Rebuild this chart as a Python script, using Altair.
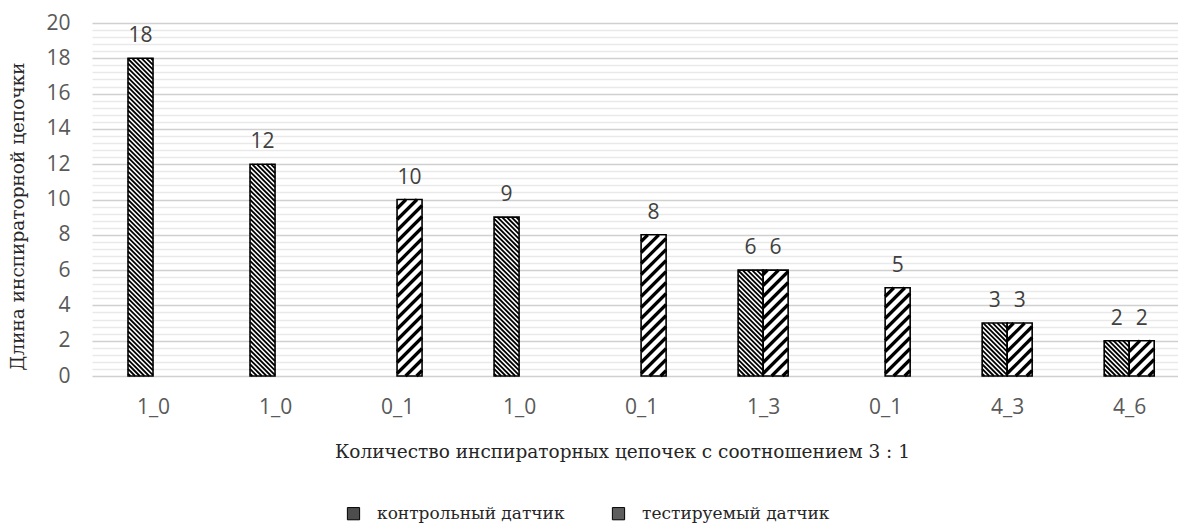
import json
import altair as alt
import pandas as pd

# ---------------- data ----------------
categories = ["1_0", "1_0", "0_1", "1_0", "0_1", "1_3", "0_1", "4_3", "4_6"]
control_values = [18, 12, None, 9, None, 6, None, 3, 2]
tested_values = [None, None, 10, None, 8, 6, 5, 3, 2]
series_names = ["контрольный датчик", "тестируемый датчик"]
y_title = "Длина инспираторной цепочки"
x_title = "Количество инспираторных цепочек с соотношением 3 : 1"

# ---------------- layout ----------------
PLOT_W, PLOT_H = 1086, 353
X_MIN, X_MAX = -0.5, 8.4
Y_MAX = 20
PX_X = PLOT_W / (X_MAX - X_MIN)
PX_Y = PLOT_H / Y_MAX
BAR_PX = 25
BW = BAR_PX / PX_X

bars = []
for i, (c, t) in enumerate(zip(control_values, tested_values)):
    if c is not None:
        bars.append(dict(idx=i, series=series_names[0], value=c, x0=i - BW, x1=i))
    if t is not None:
        bars.append(dict(idx=i, series=series_names[1], value=t, x0=i, x1=i + BW))
bars_df = pd.DataFrame(bars)
bars_df["xc"] = (bars_df["x0"] + bars_df["x1"]) / 2
bars_df["base"] = 0
bars_df["label"] = bars_df["value"].astype(int).astype(str)


def hatch(x0, val, slope, spacing, sw):
    w = BAR_PX
    h = val * PX_Y
    segs = []
    if slope > 0:
        c = -w + spacing / 2
        while c < h:
            ua, ub = max(0.0, -c), min(w, h - c)
            if ub > ua:
                segs.append((ua, ua + c, ub, ub + c))
            c += spacing
    else:
        c = spacing / 2
        while c < h + w:
            ua, ub = max(0.0, c - h), min(w, c)
            if ub > ua:
                segs.append((ua, c - ua, ub, c - ub))
            c += spacing
    return [
        dict(hx=x0 + a / PX_X, hy=b / PX_Y, hx2=x0 + cc / PX_X, hy2=d / PX_Y, sw=sw)
        for a, b, cc, d in segs
    ]


hatch_rows = []
for r in bars:
    if r["series"] == series_names[0]:
        hatch_rows += hatch(r["x0"], r["value"], -1, 4.7, 1.8)
    else:
        hatch_rows += hatch(r["x0"], r["value"], 1, 11.0, 3.2)
hatch_df = pd.DataFrame(hatch_rows)

yticks = [round(k * 0.4, 1) for k in range(51)]
major_test = "abs(datum.value % 2) < 0.001"

xscale = alt.Scale(domain=[X_MIN, X_MAX], nice=False, zero=False, padding=0)
yscale = alt.Scale(domain=[0, Y_MAX], nice=False, padding=0)

x_axis = alt.Axis(
    values=list(range(len(categories))),
    labelExpr=json.dumps(categories, ensure_ascii=False) + "[datum.value]",
    tickCount=100,
    grid=False, domain=False, ticks=False, tickSize=0,
    labelFlush=False, labelOverlap=False,
    labelPadding=20, labelFont="Open Sans", labelFontSize=21, labelColor="#595959",
    title=x_title, titleFont="DejaVu Serif", titleFontSize=18.5, titleFontWeight="normal",
    titleColor="#262626", titleX=530, titleY=81, titleBaseline="alphabetic", titleAlign="center",
)
y_axis = alt.Axis(
    values=yticks,
    tickCount=100,
    labelExpr=major_test + " ? format(datum.value, 'd') : ''",
    gridColor={"condition": {"test": major_test, "value": "#d0d0d0"}, "value": "#e9e9e9"},
    gridWidth=1.5,
    domain=False, ticks=False, tickSize=0, labelOverlap=False,
    labelPadding=22, labelFont="Open Sans", labelFontSize=21, labelColor="#595959",
    title=y_title, titleFont="DejaVu Serif", titleFontSize=18.5, titleFontWeight="normal",
    titleColor="#262626", titleX=-75, titleY=193, titleAlign="center", titleBaseline="middle",
)

base = alt.Chart(bars_df)

bar_fill = base.mark_rect(fill="white", strokeWidth=0).encode(
    x=alt.X("x0:Q", scale=xscale, axis=x_axis),
    x2="x1:Q",
    y=alt.Y("value:Q", scale=yscale, axis=y_axis),
    y2="base:Q",
)

hatch_layer = alt.Chart(hatch_df).mark_rule(color="black", strokeCap="butt").encode(
    x=alt.X("hx:Q", scale=xscale),
    y=alt.Y("hy:Q", scale=yscale),
    x2="hx2:Q",
    y2="hy2:Q",
    strokeWidth=alt.StrokeWidth("sw:Q", scale=None),
)

bar_outline = base.mark_rect(fill="transparent", stroke="black", strokeWidth=1.6).encode(
    x=alt.X("x0:Q", scale=xscale),
    x2="x1:Q",
    y=alt.Y("value:Q", scale=yscale),
    y2="base:Q",
)

labels_layer = base.mark_text(
    dy=-16, baseline="alphabetic", fontSize=21, font="Open Sans", color="#404040"
).encode(
    x=alt.X("xc:Q", scale=xscale),
    y=alt.Y("value:Q", scale=yscale),
    text="label:N",
)

legend_layer = base.mark_square(opacity=0, size=1).encode(
    x=alt.X("xc:Q", scale=xscale),
    y=alt.Y("value:Q", scale=yscale),
    color=alt.Color(
        "series:N",
        scale=alt.Scale(domain=series_names, range=["#4d4d4d", "#5e5e5e"]),
        legend=alt.Legend(
            orient="none", legendX=253, legendY=482, direction="horizontal",
            title=None, symbolType="square", symbolSize=150,
            symbolStrokeColor="black", symbolStrokeWidth=1, symbolOpacity=1,
            labelFont="DejaVu Serif", labelFontSize=17, labelColor="#262626",
            labelLimit=500, labelOffset=15, columnPadding=45, padding=0,
        ),
    ),
)

chart = alt.layer(bar_fill, hatch_layer, bar_outline, labels_layer, legend_layer).properties(
    width=PLOT_W,
    height=PLOT_H,
    padding={"left": 92, "top": 23, "right": 0, "bottom": 151},
    autosize=alt.AutoSizeParams(type="none"),
    background="white",
).configure_view(strokeWidth=0)

chart.save("out.html", embed_options={"renderer": "svg", "actions": False})
